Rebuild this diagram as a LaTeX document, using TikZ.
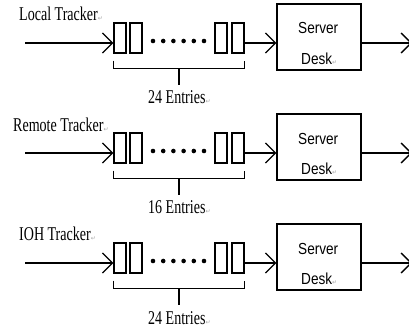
\documentclass[tikz,border=0pt]{standalone}
\usepackage{fontspec}
\usetikzlibrary{arrows.meta}
\newfontfamily\trkfont[FakeStretch=0.72]{Liberation Serif}
\newfontfamily\srvfont[FakeStretch=0.85]{Liberation Sans}
\newfontfamily\markfont{DejaVu Sans}
\newcommand{\pmark}{{\markfont\fontsize{6}{6}\selectfont\color{gray!70}↵}}

\tikzset{
  slot/.style={draw, line width=1.3pt, minimum width=12pt, minimum height=30pt, inner sep=0pt},
  srv/.style={draw, line width=1.3pt, minimum width=84pt, minimum height=66pt, inner sep=0pt},
  arr/.style={line width=1.3pt, -{Straight Barb[length=10pt,width=20pt,line width=1.3pt]}},
  lbl/.style={font=\trkfont\fontsize{19.5}{20}\selectfont, inner sep=0pt, anchor=base west},
  srvtxt/.style={font=\srvfont\fontsize{16}{16}\selectfont, inner sep=0pt, anchor=base west},
}

\begin{document}
\begin{tikzpicture}[x=1pt,y=-1pt]
    \useasboundingbox (0,0) rectangle (409,329);

    % Local Tracker
    \node[lbl] (t1) at (19,21) {Local Tracker\pmark};
    \coordinate (in1) at (25,43);
    \node[slot] (a1) at (120,38) {};
    \node[slot] (b1) at (136,38) {};
    \node[slot] (c1) at (221,38) {};
    \node[slot] (d1) at (238,38) {};
    \foreach \k in {0,...,5} \fill (153+10.2*\k,41) circle (2.3);
    \node[srv] (s1) at (319,37) {};
    \node[srvtxt] (sa1) at (298,34) {Server};
    \node[srvtxt] (sb1) at (301,64) {Desk\pmark};
    \coordinate (out1) at (412,43);
    \draw[arr] (in1) -- (in1 -| a1.west);
    \draw[arr] (in1 -| d1.east) -- (in1 -| s1.west);
    \draw[arr] (in1 -| s1.east) -- (out1);
    \draw[line width=1.3pt] ([shift={(0,7)}]a1.south west) -- ([shift={(0,15)}]a1.south west)
        -| ([shift={(0,7)}]d1.south east);
    \coordinate (k1) at (179,68);
    \draw[line width=1.3pt] (k1) -- ++(0,17);
    \node[lbl] (e1) at (148,103) {24 Entries\pmark};

    % Remote Tracker
    \node[lbl] (t2) at (13,131) {Remote Tracker\pmark};
    \coordinate (in2) at (25,153);
    \node[slot] (a2) at (120,148) {};
    \node[slot] (b2) at (136,148) {};
    \node[slot] (c2) at (221,148) {};
    \node[slot] (d2) at (238,148) {};
    \foreach \k in {0,...,5} \fill (153+10.2*\k,151) circle (2.3);
    \node[srv] (s2) at (319,147) {};
    \node[srvtxt] (sa2) at (298,144) {Server};
    \node[srvtxt] (sb2) at (301,174) {Desk\pmark};
    \coordinate (out2) at (412,153);
    \draw[arr] (in2) -- (in2 -| a2.west);
    \draw[arr] (in2 -| d2.east) -- (in2 -| s2.west);
    \draw[arr] (in2 -| s2.east) -- (out2);
    \draw[line width=1.3pt] ([shift={(0,7)}]a2.south west) -- ([shift={(0,15)}]a2.south west)
        -| ([shift={(0,7)}]d2.south east);
    \coordinate (k2) at (179,178);
    \draw[line width=1.3pt] (k2) -- ++(0,17);
    \node[lbl] (e2) at (148,213) {16 Entries\pmark};

    % IOH Tracker
    \node[lbl] (t3) at (19,240) {IOH Tracker\pmark};
    \coordinate (in3) at (25,263);
    \node[slot] (a3) at (120,258) {};
    \node[slot] (b3) at (136,258) {};
    \node[slot] (c3) at (221,258) {};
    \node[slot] (d3) at (238,258) {};
    \foreach \k in {0,...,5} \fill (153+10.2*\k,261) circle (2.3);
    \node[srv] (s3) at (319,257) {};
    \node[srvtxt] (sa3) at (298,254) {Server};
    \node[srvtxt] (sb3) at (301,284) {Desk\pmark};
    \coordinate (out3) at (412,263);
    \draw[arr] (in3) -- (in3 -| a3.west);
    \draw[arr] (in3 -| d3.east) -- (in3 -| s3.west);
    \draw[arr] (in3 -| s3.east) -- (out3);
    \draw[line width=1.3pt] ([shift={(0,7)}]a3.south west) -- ([shift={(0,15)}]a3.south west)
        -| ([shift={(0,7)}]d3.south east);
    \coordinate (k3) at (179,288);
    \draw[line width=1.3pt] (k3) -- ++(0,17);
    \node[lbl] (e3) at (148,324) {24 Entries\pmark};
\end{tikzpicture}
\end{document}
